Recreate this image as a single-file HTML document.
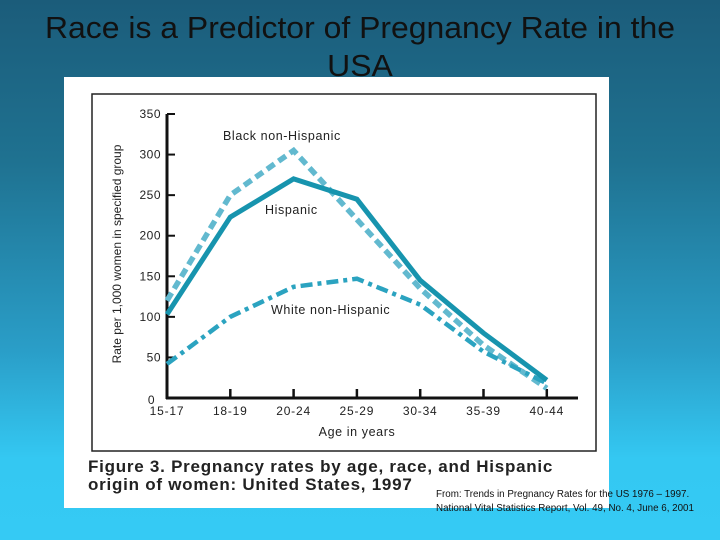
<!DOCTYPE html>
<html><head><meta charset="utf-8"><style>
body{margin:0;width:720px;height:540px;overflow:hidden;background:linear-gradient(#1b5c7a 0%,#1f7291 30%,#2a9ec8 65%,#34c8f2 85%,#35caf4 100%);font-family:"Liberation Sans",sans-serif;position:relative}
#title{position:absolute;left:0;top:9px;width:720px;text-align:center;font-size:31px;line-height:38px;color:#111;transform:scaleX(1.03)}
#box{position:absolute;left:64px;top:77px;width:545px;height:431px;background:#fff}
#src{position:absolute;left:436px;top:488px;font-size:9.8px;line-height:14px;color:#111;white-space:nowrap}
</style></head><body>
<div id="title">Race is a Predictor of Pregnancy Rate in the<br>USA</div>
<div id="box"></div>
<svg width="720" height="540" style="position:absolute;left:0;top:0">
<rect x="92" y="94" width="504" height="357" fill="none" stroke="#222" stroke-width="1.5"/>
<g id="axes"></g><g id="lines"></g>
<text x="88" y="472" font-size="17" font-weight="bold" fill="#222" letter-spacing="0.75">Figure 3. Pregnancy rates by age, race, and Hispanic</text>
<text x="88" y="490" font-size="17" font-weight="bold" fill="#222" letter-spacing="0.75">origin of women: United States, 1997</text>
</svg>
<div id="src">From: Trends in Pregnancy Rates for the US 1976 – 1997.<br>National Vital Statistics Report, Vol. 49, No. 4, June 6, 2001</div>
<script>
const categories=["15-17","18-19","20-24","25-29","30-34","35-39","40-44"];
const yTicks=[0,50,100,150,200,250,300,350];
const hispanic=[103,223,270,245,145,80,22];
const black=[120,250,305,220,135,65,12];
const white=[42,100,137,147,115,57,18];
const NS="http://www.w3.org/2000/svg";
const X0=167,DX=63.3,Y0=398,SY=284/350;
const xs=i=>X0+i*DX, ys=v=>Y0-v*SY;
function mk(t,a,p){const e=document.createElementNS(NS,t);for(const k in a)e.setAttribute(k,a[k]);p.appendChild(e);return e;}
const ax=document.getElementById('axes'),ln=document.getElementById('lines');
let e=mk('line',{x1:X0,y1:ys(350),x2:X0,y2:Y0+1,stroke:'#111','stroke-width':3},ax);

e=mk('line',{x1:X0-1,y1:Y0,x2:578,y2:Y0,stroke:'#111','stroke-width':3},ax);

yTicks.forEach(v=>{
 if(v>0){e=mk('line',{x1:X0,y1:ys(v),x2:X0+8,y2:ys(v),stroke:'#111','stroke-width':2},ax);
 }
 e=mk('text',{x:v==0?155:161,y:ys(v)+(v==0?6:4),'font-size':12,fill:'#222','text-anchor':'end','letter-spacing':0.5},ax);e.textContent=v;
 
});
categories.forEach((c,i)=>{
 if(i>0){e=mk('line',{x1:xs(i),y1:Y0,x2:xs(i),y2:Y0-9,stroke:'#111','stroke-width':2.5},ax);
 }
 e=mk('text',{x:xs(i),y:415,'font-size':12,fill:'#222','text-anchor':'middle','letter-spacing':0.8},ax);e.textContent=c;
 
});
e=mk('text',{x:357,y:436,'font-size':12.5,fill:'#222','text-anchor':'middle','letter-spacing':0.6},ax);e.textContent='Age in years';

e=mk('text',{x:0,y:0,'font-size':12,fill:'#222','text-anchor':'middle',transform:'translate(121,254) rotate(-90)'},ax);e.textContent='Rate per 1,000 women in specified group';

function series(d,col,w,dash,name){
 const pts=d.map((v,i)=>xs(i)+','+ys(v)).join(' ');
 const p=mk('polyline',{points:pts,fill:'none',stroke:col,'stroke-width':w,'stroke-dasharray':dash,'stroke-linejoin':'miter'},ln);
 
}
series(black,'#62b9cf',5.5,'9,5','line-black-non-hispanic');
series(white,'#2ba3c0',4.5,'12,5,4,5','line-white-non-hispanic');
series(hispanic,'#1794ae',5,'none','line-hispanic');
[['Black non-Hispanic',223,140,'label-black'],['Hispanic',265,214,'label-hispanic'],['White non-Hispanic',271,314,'label-white']].forEach(a=>{
 e=mk('text',{x:a[1],y:a[2],'font-size':12.5,fill:'#222','letter-spacing':0.6},ln);e.textContent=a[0];
 
});
</script>
</body></html>
